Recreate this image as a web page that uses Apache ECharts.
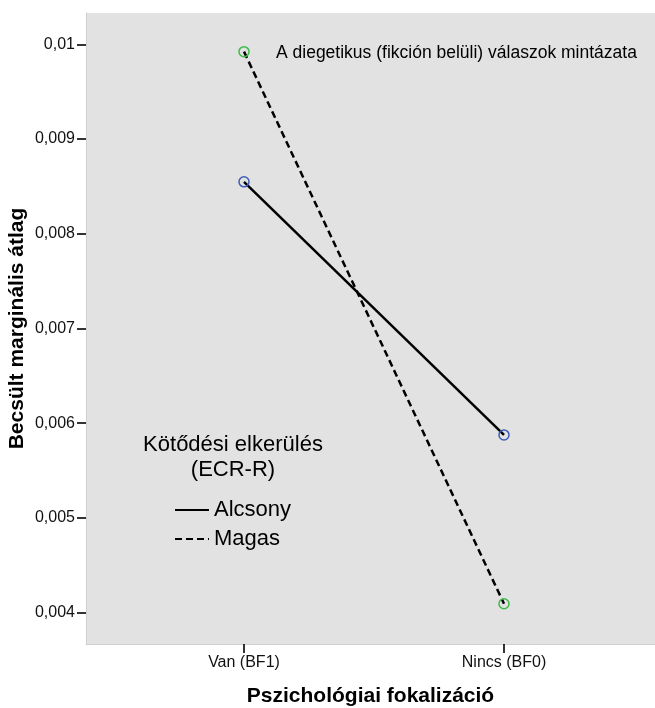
<!DOCTYPE html>
<html>
<head>
<meta charset="utf-8">
<script src="https://cdn.jsdelivr.net/npm/echarts@6/dist/echarts.min.js"></script>
<style>
html,body{margin:0;padding:0;background:#fff;}
#c{width:655px;height:708px;}
</style>
</head>
<body>
<div id="c"></div>
<script>
// Data
const categories = ['Van (BF1)', 'Nincs (BF0)'];
const categoryPos = [1, 2];
const seriesNames = ['Alcsony', 'Magas'];
const alcsony = [0.008548, 0.005877];
const magas = [0.009922, 0.004095];
const yTicks = [0.004, 0.005, 0.006, 0.007, 0.008, 0.009, 0.01];
const legendTitle = 'Kötődési elkerülés\n(ECR-R)';
const annotation = 'A diegetikus (fikción belüli) válaszok mintázata';
const yTitle = 'Becsült marginális átlag';
const xTitle = 'Pszichológiai fokalizáció';

const FONT = 'Arial, "Liberation Sans", sans-serif';
const chart = echarts.init(document.getElementById('c'), null, {renderer: 'canvas'});

function pairs(vals) { return vals.map((v, i) => [categoryPos[i], v]); }

chart.setOption({
  animation: false,
  textStyle: {fontFamily: FONT},
  grid: {left: 86, top: 13, right: 0, bottom: 64, show: true, backgroundColor: '#e2e2e2', borderWidth: 0, containLabel: false, outerBoundsMode: 'none'},
  xAxis: {
    type: 'value', min: 0.3923, max: 2.5808,
    splitLine: {show: false},
    axisLine: {show: true, lineStyle: {color: '#cfcfcf', width: 1}},
    axisTick: {show: true, customValues: categoryPos, length: 9, lineStyle: {color: '#000', width: 1.6}},
    axisLabel: {customValues: categoryPos, formatter: v => categories[categoryPos.indexOf(v)] || '', color: '#111', fontSize: 16, margin: 11, fontFamily: FONT},
    name: xTitle, nameLocation: 'middle', nameGap: 42, nameMoveOverlap: false,
    nameTextStyle: {fontSize: 21, fontWeight: 'bold', color: '#000', fontFamily: FONT}
  },
  yAxis: {
    type: 'value', min: 0.00367, max: 0.01033,
    splitLine: {show: false},
    axisLine: {show: true, lineStyle: {color: '#cfcfcf', width: 1}},
    axisTick: {show: true, customValues: yTicks, length: 9, lineStyle: {color: '#000', width: 1.6}},
    axisLabel: {customValues: yTicks, formatter: v => String(+v.toFixed(3)).replace('.', ','), color: '#111', fontSize: 16, margin: 11, fontFamily: FONT},
    name: yTitle, nameLocation: 'middle', nameGap: 58, nameMoveOverlap: false,
    nameTextStyle: {fontSize: 21, fontWeight: 'bold', color: '#000', fontFamily: FONT}
  },
  legend: {
    orient: 'vertical', left: 169, top: 494,
    itemWidth: 34, itemHeight: 14, itemGap: 7,
    data: seriesNames,
    itemStyle: {opacity: 0},
    textStyle: {fontSize: 22, color: '#000', fontFamily: FONT}
  },
  graphic: [
    {type: 'text', x: 233, y: 457.5, style: {text: legendTitle, textAlign: 'center', textVerticalAlign: 'middle', font: '22px ' + FONT, lineHeight: 25, fill: '#000'}},
    {type: 'text', x: 276, y: 53, style: {text: annotation, textAlign: 'left', textVerticalAlign: 'middle', font: '17.5px ' + FONT, fill: '#000'}}
  ],
  series: [
    {
      name: seriesNames[0], type: 'line', data: pairs(alcsony),
      symbol: 'circle', symbolSize: 10,
      lineStyle: {color: '#000', width: 2.5, type: 'solid'},
      itemStyle: {color: 'rgba(0,0,0,0)', borderColor: '#3f5bb8', borderWidth: 1.5},
      z: 2
    },
    {
      name: seriesNames[1], type: 'line', data: pairs(magas),
      symbol: 'circle', symbolSize: 10,
      lineStyle: {color: '#000', width: 2.5, type: [7, 4]},
      itemStyle: {color: 'rgba(0,0,0,0)', borderColor: '#3dbb47', borderWidth: 1.5},
      z: 2
    }
  ]
});
</script>
</body>
</html>
